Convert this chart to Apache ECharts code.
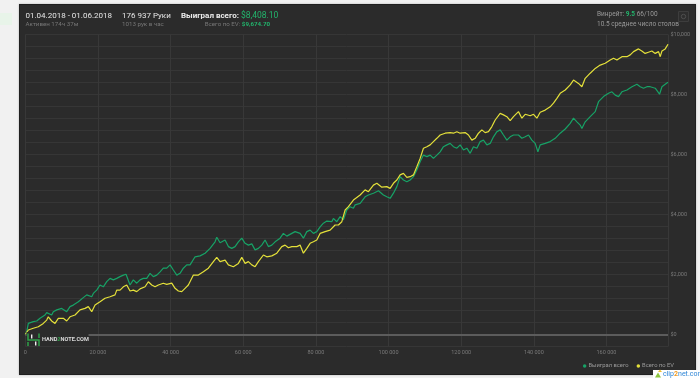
<!DOCTYPE html>
<html><head><meta charset="utf-8">
<script src="https://cdn.jsdelivr.net/npm/echarts@6/dist/echarts.min.js"></script>
<style>
html,body{margin:0;padding:0;background:#f1f1f1;width:700px;height:378px;overflow:hidden;}
#stripe{position:absolute;left:0;top:13px;width:12px;height:12px;background:#e8f4e9;}
#panel{position:absolute;left:19px;top:4px;width:675px;height:369px;background:#2b2b2b;border:1px solid #1f1f1f;box-shadow:0 0 2px rgba(0,0,0,0.25);}
#c{position:absolute;left:0;top:0;width:700px;height:378px;}
</style>
</head><body>
<div id="stripe"></div><div id="panel"></div><div id="c"></div>
<script>
// ---- data (hands played, cumulative $) ----
const TOTAL_HANDS = 176937;
const wonHands = [0,390,830,2200,3140,4050,5430,5890,7270,7710,8650,10030,11400,12310,13220,14600,15970,16910,18290,18730,19660,20570,21480,22420,23330,24240,25170,26080,26990,27730,28830,29740,30680,31590,32500,33430,34340,35250,36190,37100,38000,38940,39850,40760,41700,42600,43510,44450,45360,46740,48110,49490,50870,52240,52710,53620,55000,55910,56840,57750,58660,59600,60510,61410,62350,63260,64170,65100,66010,66920,67860,68770,70140,71050,71990,73370,74280,75650,76560,77500,78410,79320,80250,81160,82070,83010,84380,84820,85760,86670,87580,88510,89420,90330,90800,92180,93550,94460,95840,97220,98590,99530,100440,101350,102290,103190,104100,105040,105950,106860,107790,108700,109610,110550,111460,112360,113300,114210,115120,116060,116960,117870,118810,119720,120630,121560,122470,123380,124320,125230,126130,127070,127980,128890,129830,130730,131640,132580,133490,134400,135770,136710,137620,138530,139460,140370,141120,141750,143130,144500,145880,147260,148640,150010,150920,151860,152770,153230,154140,155520,156900,157810,159180,160560,161500,162410,163310,164250,165630,167010,168380,169290,170200,171140,172040,173420,174610,175270,176170,176937];
const wonValues = [0,90,370,430,450,540,650,730,650,760,820,870,760,930,980,1090,1230,1320,1260,1370,1480,1650,1590,1760,1870,1820,1870,1930,1980,2010,1650,1820,1710,1820,1870,1870,2040,1930,1980,2090,2210,2210,2320,2150,1980,2040,2210,2320,2320,2590,2620,2710,2870,3090,3240,3060,3150,2930,2870,2930,3090,3210,3040,2980,3020,2820,2870,2980,3150,2930,2980,3090,3210,3370,3280,3370,3430,3370,3210,3430,3480,3370,3430,3590,3710,3780,3760,3870,3760,3930,3820,4150,4260,4210,4320,4370,4590,4650,4710,4790,4650,4590,4540,4710,4930,5260,5150,5090,5150,5260,5480,5760,5980,5930,5980,5870,5980,6090,6260,6320,6370,6260,6210,6320,6150,6210,6040,6260,6210,6430,6480,6320,6370,6590,6760,6820,6650,6480,6590,6650,6650,6540,6590,6650,6480,6370,6090,6320,6370,6430,6540,6710,6850,7040,7210,7090,6980,6870,7090,7260,7430,7760,7930,8040,8090,7980,7930,8090,8150,8260,8340,8260,8210,8260,8260,8210,8010,8260,8340,8408.10];
const evHands = [0,830,2200,3580,4960,5890,6330,7270,8180,9090,10470,11400,12310,13690,15060,16440,17350,18290,19200,20570,21950,23330,24700,25170,26080,26990,27930,28830,29740,30680,31590,32970,33870,34810,35720,36630,38000,38940,40320,41230,42140,43070,43980,44890,46270,47640,49020,50400,51780,52710,53620,55000,55910,57280,58660,59600,60510,61410,62350,63260,64170,65550,66480,67860,69240,70610,71520,72430,73370,74740,75650,76560,77500,78410,79320,80250,81160,82540,83910,85290,86200,87140,88050,88950,90330,90800,92180,93550,94460,95840,96780,98150,99530,100440,101350,102290,103190,104100,105040,105950,106860,107790,108700,109610,110550,111460,112360,113300,114210,115590,116960,117870,118810,119720,121100,122000,122940,123850,124760,125690,126600,127510,128450,129360,130730,131640,132580,133490,134400,135770,136710,137620,139000,139910,140840,141750,143130,144500,145410,146350,147260,148640,150010,150920,152300,153230,154140,155520,156900,158270,159650,161030,161940,162870,164250,165630,166540,167450,168820,169730,170640,171550,172490,173420,174330,174800,175270,176170,176937];
const evValues = [0,150,210,260,370,480,590,450,370,540,540,450,590,650,820,870,930,760,980,1090,1210,1260,1320,1480,1480,1590,1650,1450,1480,1430,1520,1590,1760,1650,1590,1650,1710,1670,1710,1540,1450,1430,1540,1650,1980,1980,2090,2210,2430,2570,2430,2480,2320,2260,2370,2570,2370,2430,2320,2260,2430,2650,2590,2620,2710,2930,2980,2890,2930,2930,2980,2710,2870,3040,3090,3150,3370,3430,3480,3650,3650,3760,4150,4260,4480,4540,4650,4820,4760,4980,5040,4910,4930,4870,5040,5150,5320,5370,5240,5260,5320,5590,5870,6210,6260,6320,6430,6540,6650,6710,6730,6710,6760,6710,6730,6650,6480,6540,6710,6820,6730,6760,6930,7150,7370,7320,7260,7130,7260,7430,7210,7340,7290,7340,7210,7410,7480,7590,7710,7870,8040,8150,8320,8480,8370,8260,8540,8710,8870,8980,9040,9150,9210,9150,9260,9260,9320,9430,9520,9450,9370,9410,9450,9370,9430,9260,9450,9520,9674.70];
const seriesNames = ['Выиграл всего', 'Всего по EV'];
const xTickStep = 20000;
const yLabelStep = 2000;

// ---- styling ----
const GREEN = '#17a266', YELLOW = '#e4e03a', TXTGREEN = '#22b46c';
const F = 'Roboto, "Noto Sans", sans-serif';
const fmtSpace = v => String(v).replace(/\B(?=(\d{3})+(?!\d))/g, ' ');
const fmtUsd = v => '$' + v.toLocaleString('en-US');

const chart = echarts.init(document.getElementById('c'), null, {renderer: 'canvas'});
chart.setOption({
  backgroundColor: 'transparent',
  animation: false,
  textStyle: {fontFamily: F},
  grid: {left: 25.3, right: 32, top: 34.5, bottom: 31.5, containLabel: false},
  xAxis: {
    type: 'value', min: 0, max: TOTAL_HANDS, interval: xTickStep,
    axisLine: {show: false}, axisTick: {show: false},
    splitLine: {show: true, lineStyle: {color: '#383838', width: 1}},
    axisLabel: {color: '#7a7a7a', fontSize: 5.5, margin: 3, fontFamily: F,
      formatter: v => (v % xTickStep === 0) ? fmtSpace(v) : ''}
  },
  yAxis: {
    type: 'value', position: 'right', min: -400, max: 10000, interval: 400,
    axisLine: {show: false}, axisTick: {show: false},
    splitLine: {show: true, lineStyle: {color: '#363636', width: 1}},
    axisLabel: {color: '#7a7a7a', fontSize: 5.5, margin: 2.5, fontFamily: F,
      formatter: v => (v >= 0 && v % yLabelStep === 0) ? fmtUsd(v) : ''}
  },
  legend: {
    right: 26, top: 363, icon: 'circle', itemWidth: 3.5, itemHeight: 3.5, itemGap: 8,
    padding: 0,
    textStyle: {color: '#9a9a9a', fontSize: 5.8, fontFamily: F, padding: [0, 0, 0, -3]},
    data: seriesNames
  },
  series: [
    {name: seriesNames[0], type: 'line', showSymbol: false, symbol: 'circle',
     data: wonHands.map((h, i) => [h, wonValues[i]]),
     lineStyle: {color: GREEN, width: 1.2}, itemStyle: {color: GREEN}, z: 3,
     markLine: {silent: true, symbol: 'none', label: {show: false},
       lineStyle: {color: '#5c5c5c', width: 2, type: 'solid'}, data: [{yAxis: 0}]}},
    {name: seriesNames[1], type: 'line', showSymbol: false, symbol: 'circle',
     data: evHands.map((h, i) => [h, evValues[i]]),
     lineStyle: {color: YELLOW, width: 1.2}, itemStyle: {color: YELLOW}, z: 4}
  ],
  graphic: [
    // header left
    {type: 'text', z: 100, x: 25.5, y: 15.5, style: {text: '01.04.2018 - 01.06.2018', fill: '#e6e6e6', font: '8px ' + F, verticalAlign: 'middle'}},
    {type: 'text', z: 100, x: 25.5, y: 24, style: {text: 'Активен 174ч 37м', fill: '#777', font: '6.2px ' + F, verticalAlign: 'middle'}},
    {type: 'text', z: 100, x: 122, y: 15.5, style: {text: '176 937 Руки', fill: '#e6e6e6', font: '8px ' + F, verticalAlign: 'middle'}},
    {type: 'text', z: 100, x: 122, y: 24, style: {text: '1013 рук в час', fill: '#777', font: '6.2px ' + F, verticalAlign: 'middle'}},
    {type: 'text', z: 100, x: 181, y: 15.5, style: {text: '{a|Выиграл всего: }{b|$8,408.10}', verticalAlign: 'middle',
      rich: {a: {fill: '#ececec', fontWeight: 'bold', fontSize: 8, fontFamily: F}, b: {fill: TXTGREEN, fontSize: 8.5, fontFamily: F}}}},
    {type: 'text', z: 100, x: 270, y: 24, style: {text: '{a|Всего по EV: }{b|$9,674.70}', align: 'right', verticalAlign: 'middle',
      rich: {a: {fill: '#777', fontSize: 6.2, fontFamily: F}, b: {fill: TXTGREEN, fontSize: 6.2, fontWeight: 'bold', fontFamily: F}}}},
    // header right
    {type: 'text', z: 100, x: 597, y: 14.7, style: {text: '{a|Винрейт: }{b|9.5}{a| 66/100}', verticalAlign: 'middle',
      rich: {a: {fill: '#999', fontSize: 6.5, fontFamily: F}, b: {fill: TXTGREEN, fontSize: 6.5, fontWeight: 'bold', fontFamily: F}}}},
    {type: 'text', z: 100, x: 597, y: 24, style: {text: '10.5 среднее число столов', fill: '#999', font: '6.5px ' + F, verticalAlign: 'middle'}},
    {type: 'rect', z: 100, shape: {x: 678.5, y: 11.5, width: 10, height: 10}, style: {fill: '#2e2e2e', stroke: '#3d3d3d', lineWidth: 1}},
    {type: 'circle', z: 101, shape: {cx: 683.5, cy: 16.5, r: 2.2}, style: {fill: 'none', stroke: '#4f4f4f', lineWidth: 1}},
    // watermark
    {type: 'rect', z: 100, shape: {x: 26.5, y: 332, width: 62, height: 13}, style: {fill: '#2b2b2b'}},
    {type: 'polyline', z: 101, shape: {points: [[28, 333.5], [28, 340], [39, 340], [39, 346]]}, style: {stroke: '#2fa34a', lineWidth: 1.5, fill: 'none'}},
    {type: 'polyline', z: 101, shape: {points: [[28, 346], [28, 342]]}, style: {stroke: '#2fa34a', lineWidth: 1.5}},
    {type: 'polyline', z: 101, shape: {points: [[39, 333.5], [39, 338]]}, style: {stroke: '#2fa34a', lineWidth: 1.5}},
    {type: 'rect', z: 101, shape: {x: 31, y: 334.5, width: 1.4, height: 4}, style: {fill: '#eeeeee'}},
    {type: 'rect', z: 101, shape: {x: 35, y: 341.5, width: 1.4, height: 4}, style: {fill: '#eeeeee'}},
    {type: 'text', z: 101, x: 42, y: 340, style: {text: '{a|HAND}{b|2}{a|NOTE.COM}', verticalAlign: 'middle',
      rich: {a: {fill: '#dcdcdc', fontSize: 5.6, fontWeight: 'bold', fontFamily: F}, b: {fill: '#2fa34a', fontSize: 5.6, fontWeight: 'bold', fontFamily: F}}}},
    // clip2net stamp
    {type: 'rect', z: 110, shape: {x: 653, y: 370, width: 47, height: 8}, style: {fill: '#ffffff'}},
    {type: 'polygon', z: 111, shape: {points: [[655, 377.5], [658, 372.5], [661, 377.5]]}, style: {fill: '#8cc63f'}},
    {type: 'polygon', z: 111, shape: {points: [[658, 372], [662, 372], [660, 369.5]]}, style: {fill: '#f2c12e'}},
    {type: 'text', z: 111, x: 663, y: 374.5, style: {text: '{a|clip}{b|2}{a|net.com}', verticalAlign: 'middle',
      rich: {a: {fill: '#2f86d6', fontSize: 7, fontFamily: F}, b: {fill: '#f29a1e', fontSize: 7, fontWeight: 'bold', fontFamily: F}}}}
  ]
});
</script>
</body></html>
